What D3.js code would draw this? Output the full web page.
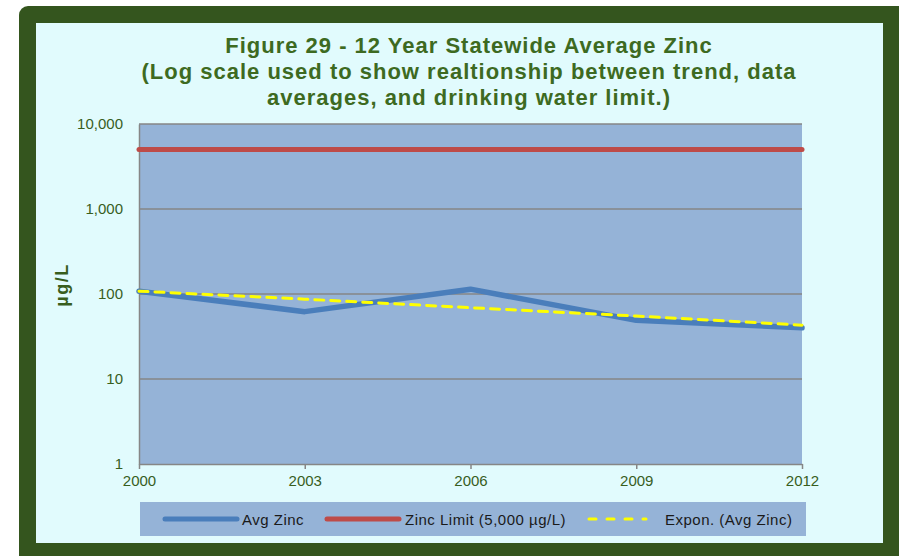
<!DOCTYPE html>
<html>
<head>
<meta charset="utf-8">
<script src="https://cdn.jsdelivr.net/npm/d3@7"></script>
<style>
  body { margin: 0; background: #ffffff; }
  svg { display: block; font-family: "Liberation Sans", Arial, sans-serif; }
</style>
</head>
<body>
<svg id="chart" width="899" height="556"></svg>
<script>
const years = [2000, 2003, 2006, 2009, 2012];
const avgZinc = [108, 62, 114, 49, 40];
const zincLimit = [5000, 5000, 5000, 5000, 5000];
const exponTrend = [108, 87, 69, 55, 43];
const yTicks = [1, 10, 100, 1000, 10000];
const titleLines = [
  "Figure 29 - 12 Year Statewide Average Zinc",
  "(Log scale used to show realtionship between trend, data",
  "averages, and drinking water limit.)"
];

const svg = d3.select("#chart");
const width = +svg.attr("width");
const height = +svg.attr("height");

const plot = { left: 139, right: 802, top: 124, bottom: 464 };
const textGreen = "#385E1D";

// outer frame
svg.append("rect")
  .attr("x", 19)
  .attr("y", 6)
  .attr("width", width - 19 + 10)
  .attr("height", height - 6 + 10)
  .attr("rx", 9)
  .attr("fill", "#34551E");

svg.append("rect")
  .attr("x", 36)
  .attr("y", 23)
  .attr("width", 847)
  .attr("height", 520)
  .attr("fill", "#E1FBFD");

// title
svg.append("g")
  .selectAll("text")
  .data(titleLines)
  .enter()
  .append("text")
  .attr("x", 469)
  .attr("y", (d, i) => 53 + i * 26)
  .attr("text-anchor", "middle")
  .attr("font-size", "22px")
  .attr("font-weight", "bold")
  .attr("letter-spacing", "1px")
  .attr("fill", "#3D6A21")
  .text(d => d);

const x = d3.scaleLinear()
  .domain([2000, 2012])
  .range([plot.left, plot.right]);

const y = d3.scaleLog()
  .domain([1, 10000])
  .range([plot.bottom, plot.top]);

// plot area
svg.append("rect")
  .attr("x", plot.left)
  .attr("y", plot.top)
  .attr("width", plot.right - plot.left)
  .attr("height", plot.bottom - plot.top)
  .attr("fill", "#95B3D7");

// gridlines
svg.append("g")
  .selectAll("line")
  .data(yTicks.slice(1))
  .enter()
  .append("line")
  .attr("x1", plot.left)
  .attr("x2", plot.right)
  .attr("y1", d => y(d))
  .attr("y2", d => y(d))
  .attr("stroke", "#868686")
  .attr("stroke-width", 1.5);

// y axis
const yAxis = svg.append("g")
  .attr("transform", "translate(" + plot.left + ",0)")
  .call(d3.axisLeft(y)
    .tickValues(yTicks)
    .tickFormat(d3.format(","))
    .tickSize(0)
    .tickPadding(16));

yAxis.select(".domain").attr("stroke", "#868686").attr("stroke-width", 1.5);
yAxis.selectAll("text")
  .attr("font-size", "15px")
  .attr("font-family", "Liberation Sans, Arial, sans-serif")
  .attr("fill", textGreen);

// x axis
const xAxis = svg.append("g")
  .attr("transform", "translate(0," + plot.bottom + ")")
  .call(d3.axisBottom(x)
    .tickValues(years)
    .tickFormat(d3.format("d"))
    .tickSizeInner(5)
    .tickSizeOuter(0)
    .tickPadding(6));

xAxis.select(".domain").attr("stroke", "#868686").attr("stroke-width", 1.5);
xAxis.selectAll(".tick line").attr("stroke", "#868686").attr("stroke-width", 1.5);
xAxis.selectAll("text")
  .attr("font-size", "15px")
  .attr("font-family", "Liberation Sans, Arial, sans-serif")
  .attr("fill", textGreen);

// y axis title
svg.append("text")
  .attr("transform", "translate(68,285) rotate(-90)")
  .attr("text-anchor", "middle")
  .attr("font-size", "18px")
  .attr("font-weight", "bold")
  .attr("letter-spacing", "1.5px")
  .attr("fill", textGreen)
  .text("µg/L");

// lines
const line = d3.line()
  .x((d, i) => x(years[i]))
  .y(d => y(d));

svg.append("path")
  .attr("d", line(zincLimit))
  .attr("fill", "none")
  .attr("stroke", "#BE4B48")
  .attr("stroke-width", 5)
  .attr("stroke-linecap", "round");

svg.append("path")
  .attr("d", line(avgZinc))
  .attr("fill", "none")
  .attr("stroke", "#4A7EBB")
  .attr("stroke-width", 5.5)
  .attr("stroke-linecap", "round")
  .attr("stroke-linejoin", "round");

svg.append("path")
  .attr("d", line(exponTrend))
  .attr("fill", "none")
  .attr("stroke", "#FFFF00")
  .attr("stroke-width", 3)
  .attr("stroke-dasharray", "9,7")
  .attr("stroke-linecap", "round");

// legend
const legendItems = [
  { label: "Avg Zinc", color: "#4A7EBB", dash: null, x1: 165, x2: 237, tx: 242 },
  { label: "Zinc Limit (5,000 µg/L)", color: "#BE4B48", dash: null, x1: 327, x2: 399, tx: 405 },
  { label: "Expon. (Avg Zinc)", color: "#FFFF00", dash: "7,11", x1: 589, x2: 646, tx: 665 }
];

svg.append("rect")
  .attr("x", 140)
  .attr("y", 502)
  .attr("width", 666)
  .attr("height", 34)
  .attr("fill", "#95B3D7");

const legend = svg.append("g")
  .selectAll("g")
  .data(legendItems)
  .enter()
  .append("g");

legend.append("line")
  .attr("x1", d => d.x1)
  .attr("x2", d => d.x2)
  .attr("y1", 519)
  .attr("y2", 519)
  .attr("stroke", d => d.color)
  .attr("stroke-width", d => d.dash ? 3 : 5)
  .attr("stroke-dasharray", d => d.dash)
  .attr("stroke-linecap", "round");

legend.append("text")
  .attr("x", d => d.tx)
  .attr("y", 525)
  .attr("font-size", "15px")
  .attr("letter-spacing", "0.5px")
  .attr("fill", "#1a1a1a")
  .text(d => d.label);
</script>
</body>
</html>
